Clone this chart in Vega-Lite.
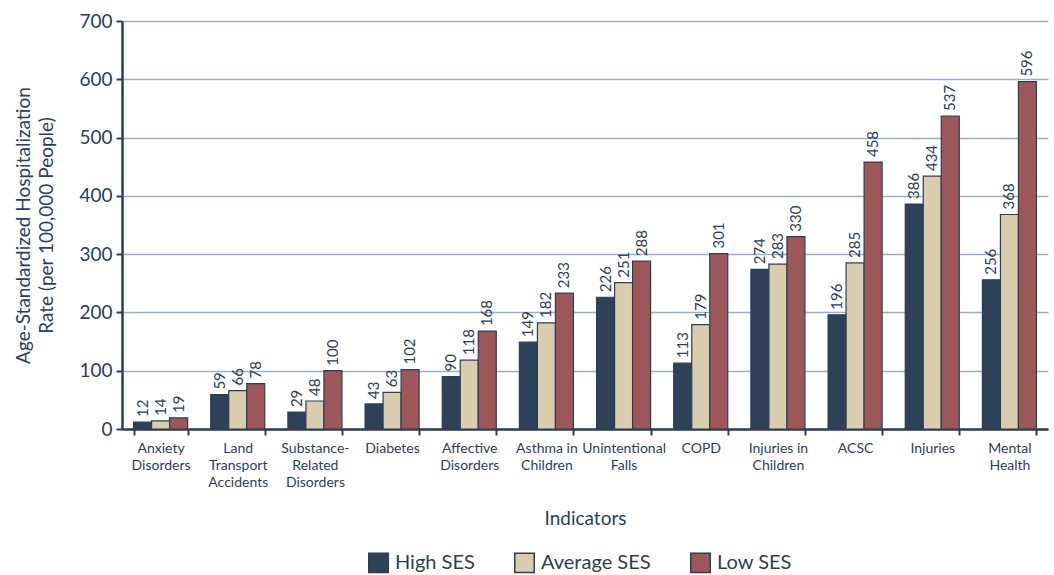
{
  "$schema": "https://vega.github.io/schema/vega-lite/v6.json",
  "width": 926,
  "height": 408,
  "autosize": {"type": "none"},
  "padding": {"left": 122, "top": 21, "right": 6, "bottom": 146},
  "background": "white",
  "config": {
    "font": "Lato",
    "view": {"stroke": null},
    "axis": {"labelColor": "#2c3e55", "titleColor": "#2c3e55", "domainColor": "#2c3e55", "tickColor": "#2c3e55", "titleFontWeight": "normal"},
    "legend": {"labelColor": "#2c3e55"}
  },
  "data": {
    "values": [
      {"indicator": "Anxiety\nDisorders", "ses": "High SES", "rate": 12},
      {"indicator": "Anxiety\nDisorders", "ses": "Average SES", "rate": 14},
      {"indicator": "Anxiety\nDisorders", "ses": "Low SES", "rate": 19},
      {"indicator": "Land\nTransport\nAccidents", "ses": "High SES", "rate": 59},
      {"indicator": "Land\nTransport\nAccidents", "ses": "Average SES", "rate": 66},
      {"indicator": "Land\nTransport\nAccidents", "ses": "Low SES", "rate": 78},
      {"indicator": "Substance-\nRelated\nDisorders", "ses": "High SES", "rate": 29},
      {"indicator": "Substance-\nRelated\nDisorders", "ses": "Average SES", "rate": 48},
      {"indicator": "Substance-\nRelated\nDisorders", "ses": "Low SES", "rate": 100},
      {"indicator": "Diabetes", "ses": "High SES", "rate": 43},
      {"indicator": "Diabetes", "ses": "Average SES", "rate": 63},
      {"indicator": "Diabetes", "ses": "Low SES", "rate": 102},
      {"indicator": "Affective\nDisorders", "ses": "High SES", "rate": 90},
      {"indicator": "Affective\nDisorders", "ses": "Average SES", "rate": 118},
      {"indicator": "Affective\nDisorders", "ses": "Low SES", "rate": 168},
      {"indicator": "Asthma in\nChildren", "ses": "High SES", "rate": 149},
      {"indicator": "Asthma in\nChildren", "ses": "Average SES", "rate": 182},
      {"indicator": "Asthma in\nChildren", "ses": "Low SES", "rate": 233},
      {"indicator": "Unintentional\nFalls", "ses": "High SES", "rate": 226},
      {"indicator": "Unintentional\nFalls", "ses": "Average SES", "rate": 251},
      {"indicator": "Unintentional\nFalls", "ses": "Low SES", "rate": 288},
      {"indicator": "COPD", "ses": "High SES", "rate": 113},
      {"indicator": "COPD", "ses": "Average SES", "rate": 179},
      {"indicator": "COPD", "ses": "Low SES", "rate": 301},
      {"indicator": "Injuries in\nChildren", "ses": "High SES", "rate": 274},
      {"indicator": "Injuries in\nChildren", "ses": "Average SES", "rate": 283},
      {"indicator": "Injuries in\nChildren", "ses": "Low SES", "rate": 330},
      {"indicator": "ACSC", "ses": "High SES", "rate": 196},
      {"indicator": "ACSC", "ses": "Average SES", "rate": 285},
      {"indicator": "ACSC", "ses": "Low SES", "rate": 458},
      {"indicator": "Injuries", "ses": "High SES", "rate": 386},
      {"indicator": "Injuries", "ses": "Average SES", "rate": 434},
      {"indicator": "Injuries", "ses": "Low SES", "rate": 537},
      {"indicator": "Mental\nHealth", "ses": "High SES", "rate": 256},
      {"indicator": "Mental\nHealth", "ses": "Average SES", "rate": 368},
      {"indicator": "Mental\nHealth", "ses": "Low SES", "rate": 596}
    ]
  },
  "encoding": {
    "x": {
      "field": "indicator", "type": "nominal", "sort": null,
      "scale": {"paddingInner": 0.3, "paddingOuter": 0.15},
      "axis": {
        "title": "Indicators", "titleFontSize": 19, "titlePadding": 20,
        "labelAngle": 0, "labelFontSize": 14, "labelLineHeight": 17, "labelPadding": 6,
        "labelExpr": "split(datum.label, '\\n')",
        "tickBand": "extent", "tickSize": 6, "tickWidth": 2, "domainWidth": 2.5, "grid": false
      }
    },
    "xOffset": {"field": "ses", "type": "nominal", "sort": ["High SES", "Average SES", "Low SES"], "scale": {"paddingInner": 0, "paddingOuter": 0}},
    "y": {
      "field": "rate", "type": "quantitative",
      "scale": {"domain": [0, 700]},
      "axis": {
        "title": ["Age-Standardized Hospitalization", "Rate (per 100,000 People)"],
        "titleFontSize": 19, "titlePadding": 22, "titleLineHeight": 23,
        "values": [0, 100, 200, 300, 400, 500, 600, 700],
        "labelFontSize": 19, "labelPadding": 4, "tickSize": 6, "tickWidth": 2, "domainWidth": 2.5,
        "grid": true, "gridColor": "#9aafc8", "gridWidth": 1.5
      }
    }
  },
  "layer": [
    {
      "mark": {"type": "bar", "stroke": "#2c3e55", "strokeWidth": 1.2},
      "encoding": {
        "color": {
          "field": "ses", "type": "nominal",
          "sort": ["High SES", "Average SES", "Low SES"],
          "scale": {"domain": ["High SES", "Average SES", "Low SES"], "range": ["#2d4159", "#d9cdae", "#9e5758"]},
          "legend": {
            "orient": "none", "legendX": 246, "legendY": 531, "direction": "horizontal", "title": null,
            "symbolType": "square", "symbolSize": 380, "symbolStrokeColor": "#2c3e55", "symbolStrokeWidth": 1.5,
            "labelFontSize": 20, "columnPadding": 36, "labelOffset": 6
          }
        }
      }
    },
    {
      "mark": {"type": "text", "angle": -90, "align": "left", "baseline": "middle", "dx": 5, "fontSize": 15, "color": "#2c3e55"},
      "encoding": {"text": {"field": "rate", "type": "quantitative"}}
    }
  ]
}
